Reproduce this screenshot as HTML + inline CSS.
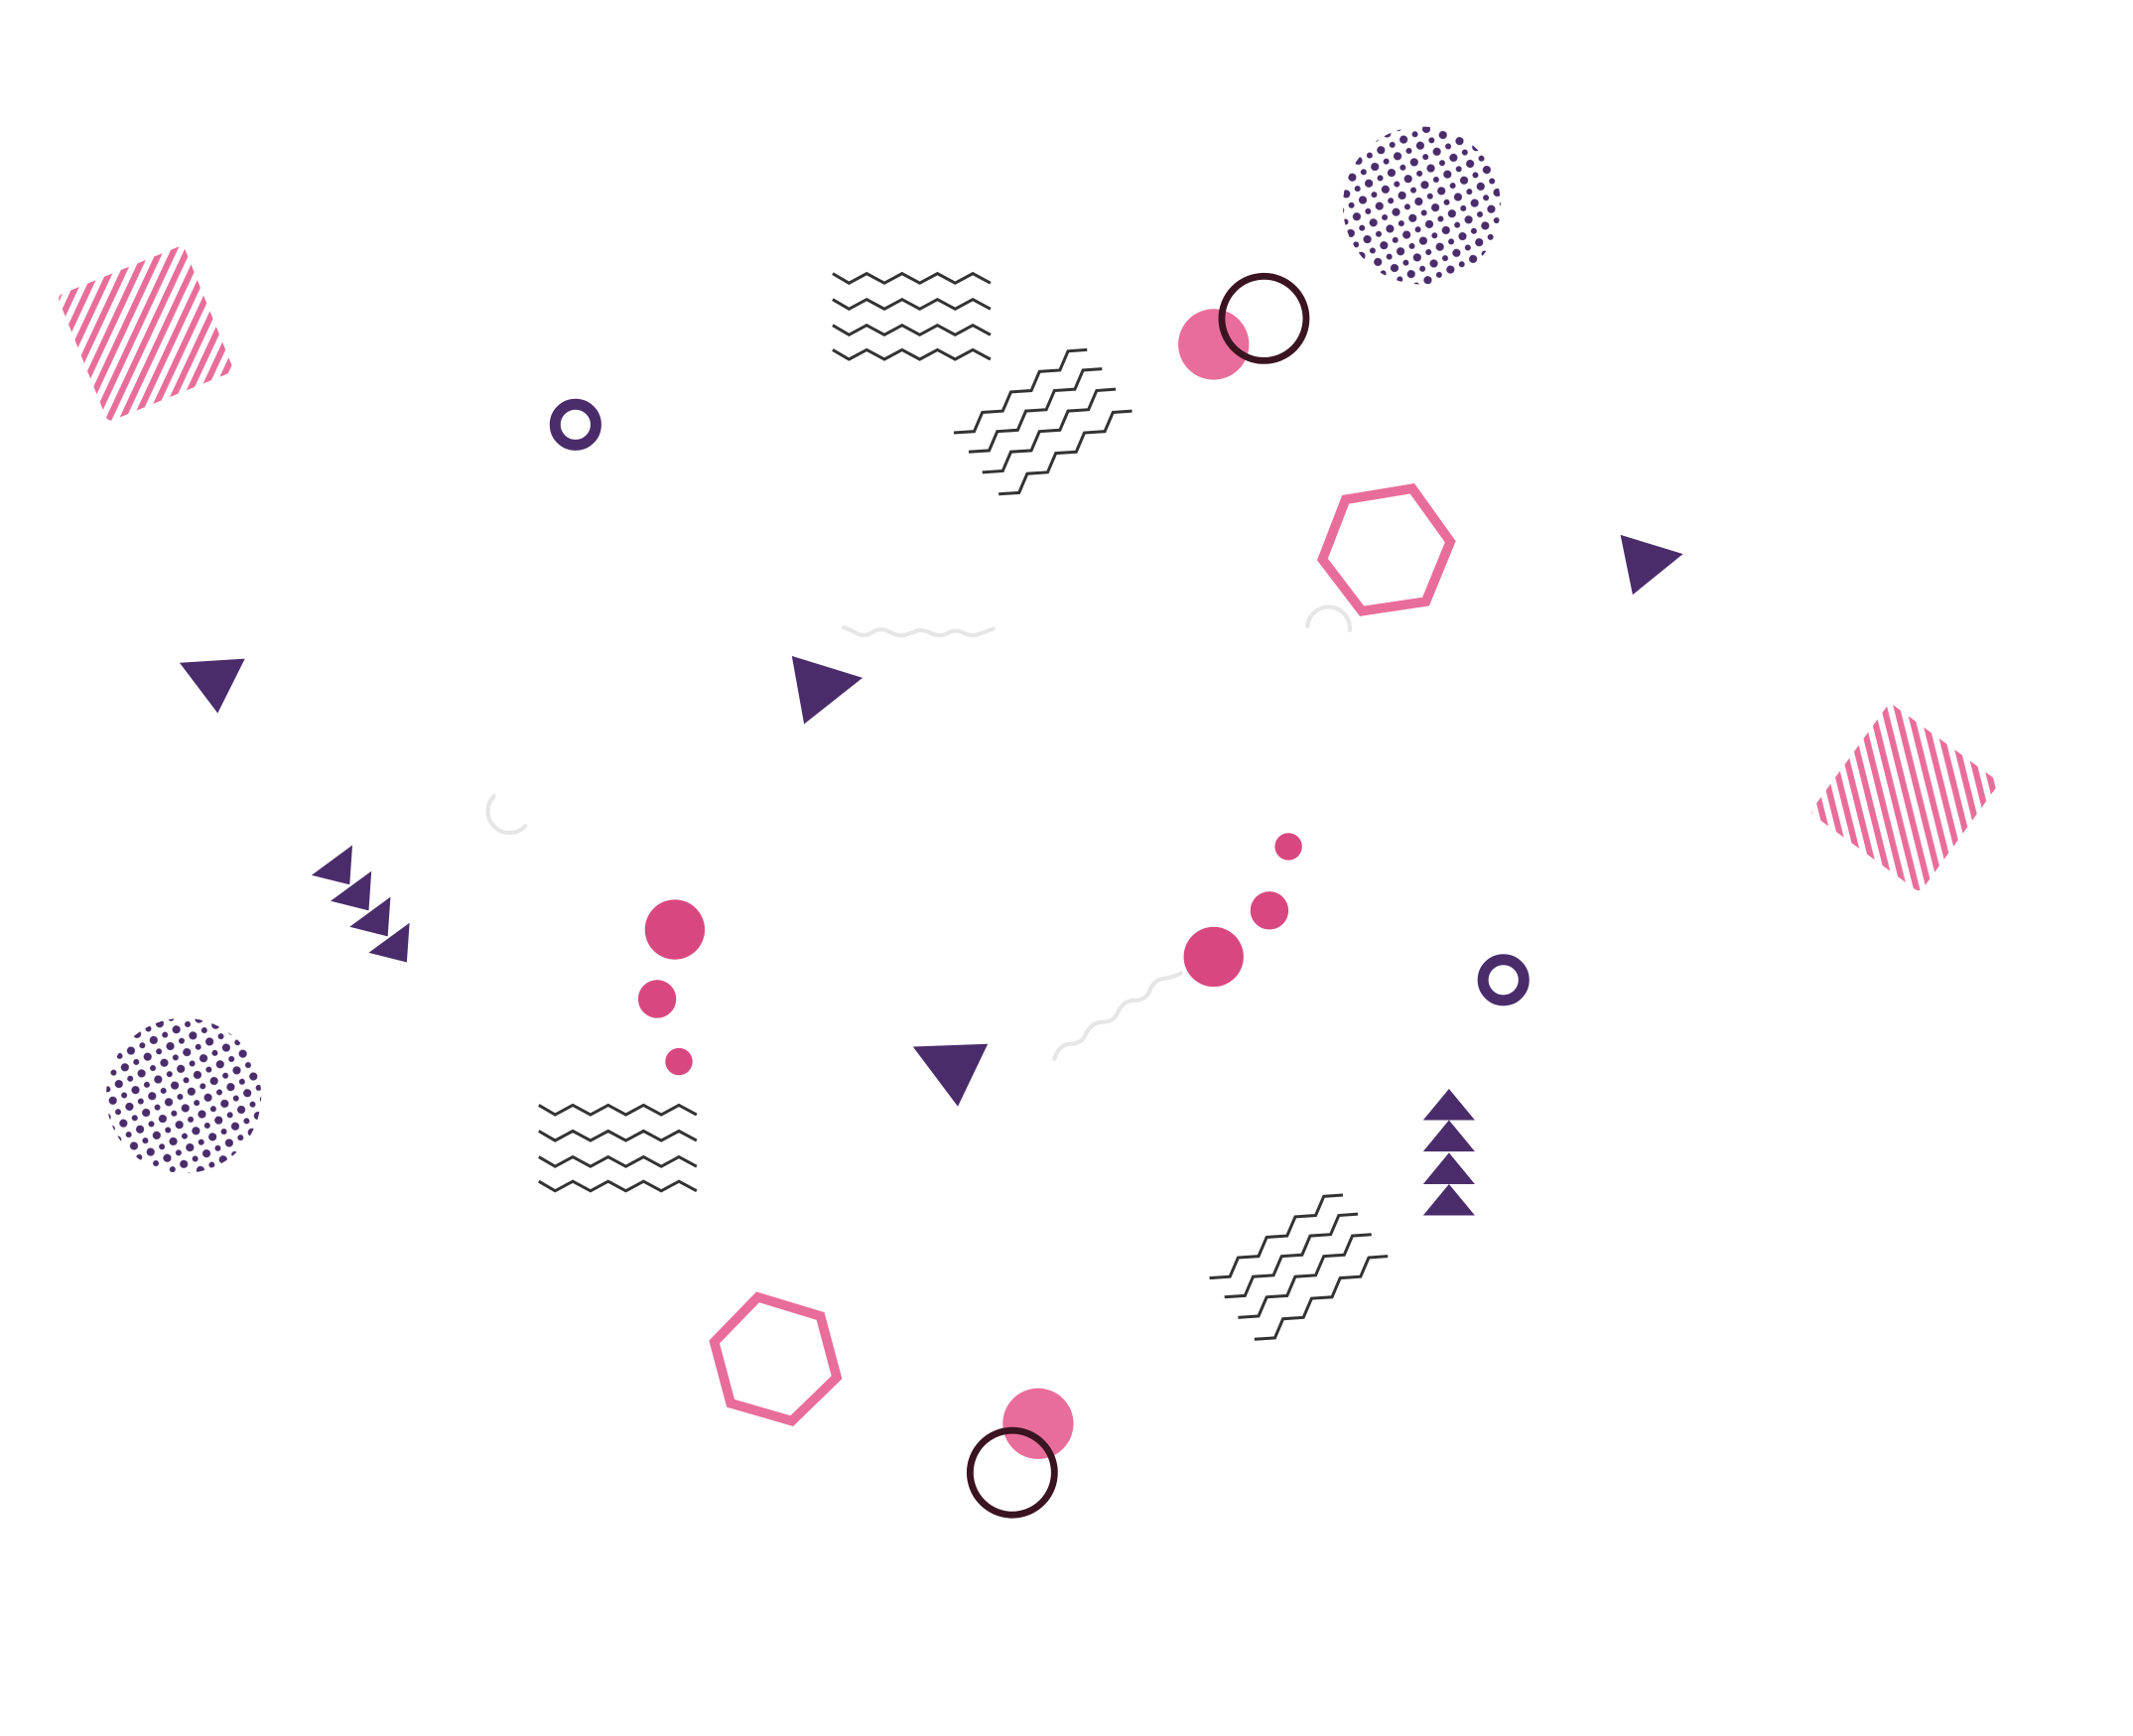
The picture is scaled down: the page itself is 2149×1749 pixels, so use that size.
<!DOCTYPE html>
<html><head><meta charset="utf-8"><style>html,body{margin:0;padding:0;background:#fff;}svg{display:block}</style></head>
<body>
<svg width="2149" height="1749" viewBox="0 0 1545 1257" preserveAspectRatio="none" xmlns="http://www.w3.org/2000/svg">
<g transform="scale(0.9855)">
<defs>
<pattern id="stripeL" width="9" height="9" patternUnits="userSpaceOnUse" patternTransform="rotate(47)">
<rect width="4.5" height="9" fill="#e96d9b"/></pattern>
<pattern id="stripeR" width="9" height="9" patternUnits="userSpaceOnUse" patternTransform="rotate(-50)">
<rect width="4.5" height="9" fill="#e96d9b"/></pattern>
<pattern id="dots" width="13" height="13" patternUnits="userSpaceOnUse" patternTransform="rotate(20)">
<circle cx="3.5" cy="3.5" r="3" fill="#4a2c6b"/><circle cx="10" cy="10" r="2.2" fill="#4a2c6b"/></pattern>
<symbol id="zig" overflow="visible"><g fill="none" stroke="#333" stroke-width="2.2">
<polyline id="zl" points="0,0 12,7 25,0 38,7 51,0 64,7 77,0 90,7 103,0 116,7"/>
<use href="#zl" y="19"/><use href="#zl" y="38"/><use href="#zl" y="56"/></g></symbol>
<symbol id="step" overflow="visible"><g fill="none" stroke="#333" stroke-width="2.2">
<polyline id="sl" points="0,0 15,-1 21,-15 36,-16 42,-30 57,-31 63,-45 78,-46 84,-60 98,-61"/>
<use href="#sl" x="11" y="14"/><use href="#sl" x="21" y="29"/><use href="#sl" x="33" y="45"/></g></symbol>
</defs>

<rect x="57" y="195" width="100" height="100" rx="4" fill="url(#stripeL)" transform="rotate(-22 107 245)"/>
<rect x="1350" y="536" width="100" height="100" rx="4" fill="url(#stripeR)" transform="rotate(36 1400 586)"/>
<circle cx="1045" cy="151" r="58" fill="url(#dots)"/>
<circle cx="135" cy="805" r="57" fill="url(#dots)"/>

<use href="#zig" x="612" y="201"/>
<use href="#zig" x="396" y="812"/>
<use href="#step" x="701" y="318"/>
<use href="#step" x="889" y="939"/>

<circle cx="892" cy="253" r="26" fill="#e96d9b"/>
<circle cx="929" cy="234" r="31" fill="none" stroke="#3a1420" stroke-width="5"/>
<circle cx="763" cy="1046" r="26" fill="#e96d9b"/>
<circle cx="744" cy="1082" r="31" fill="none" stroke="#3a1420" stroke-width="5"/>
<circle cx="423" cy="312" r="15" fill="none" stroke="#4a2c6b" stroke-width="8"/>
<circle cx="1105" cy="720" r="15" fill="none" stroke="#4a2c6b" stroke-width="8"/>

<polygon points="989,367 1038,359 1066,398 1048,442 1001,449 972,411" fill="none" stroke="#e96d9b" stroke-width="7"/>
<polygon points="557,953 603,967 615,1012 582,1044 537,1031 525,986" fill="none" stroke="#e96d9b" stroke-width="7"/>

<g fill="#4a2c6b">
<polygon points="1191,393 1237,407 1200,437"/>
<polygon points="132,487 180,484 160,524"/>
<polygon points="582,482 634,498 591,532"/>
<polygon points="671,769 726,767 704,813"/>
<polygon points="229,643 259,621 257,650"/>
<polygon points="243,662 273,640 271,669"/>
<polygon points="257,681 287,659 285,688"/>
<polygon points="271,700 301,678 299,707"/>
<polygon points="1065,800 1084,823 1046,823"/>
<polygon points="1065,823 1084,846 1046,846"/>
<polygon points="1065,847 1084,870 1046,870"/>
<polygon points="1065,870 1084,893 1046,893"/>
</g>

<g fill="#d94780">
<circle cx="496" cy="683" r="22"/><circle cx="483" cy="734" r="14"/><circle cx="499" cy="780" r="10"/>
<circle cx="947" cy="622" r="10"/><circle cx="933" cy="669" r="14"/><circle cx="892" cy="703" r="22"/>
</g>

<g fill="none" stroke="#e6e6e6" stroke-width="3" stroke-linecap="round">
<path d="M620,461 q6,2 11,5 q6,2 11,-2 q6,-3 11,0 q6,3 11,3 q6,-2 11,-4 q6,0 11,3 q6,2 11,-1 q6,-3 11,0 q6,3 11,1 q6,-2 11,-4"/>
<path d="M961,460 a15,15 0 0 1 31,3"/>
<path d="M363,585 a13,13 0 0 0 23,22"/>
<path d="M775,778 q3,-10 11,-11 q9,0 12,-7 q4,-9 12,-9 q9,0 12,-8 q4,-8 12,-8 q8,0 11,-7 q3,-8 10,-9 q8,-1 13,-4"/>
</g>
</g>
</svg>
</body></html>
